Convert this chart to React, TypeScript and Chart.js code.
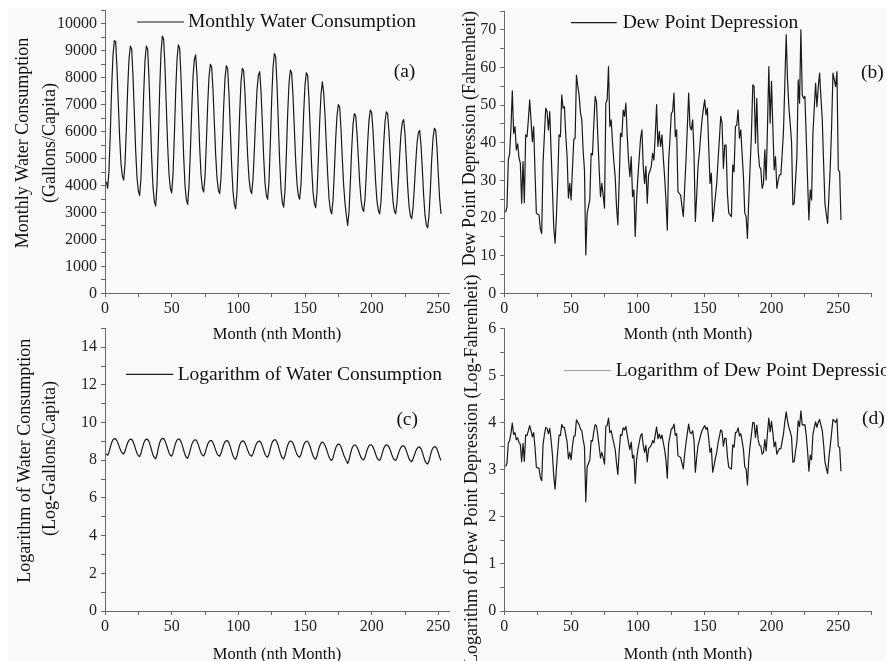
import React, { useEffect, useRef } from 'react';
import { Chart, registerables } from 'chart.js';

Chart.register(...registerables);

const FONT = '"Liberation Serif", "Times New Roman", serif';

// ---- Data (month 1..252) ----
const waterUse = [
  4150, 3900, 4560, 5990, 7640, 8850, 9380, 9350, 8360, 7060, 5760, 4820, 4360,
  4200, 4800, 6090, 7590, 8680, 9180, 9070, 8070, 6680, 5300, 4300, 3800,
  3630, 4300, 5740, 7400, 8630, 9180, 9060, 7990, 6510, 5020, 3950, 3420,
  3240, 4000, 5640, 7530, 8920, 9550, 9430, 8390, 6930, 5480, 4430, 3900,
  3730, 4390, 5820, 7460, 8670, 9220, 9100, 8040, 6560, 5080, 4010, 3480,
  3300, 3970, 5240, 6740, 8020, 8680, 8850, 8090, 6810, 5440, 4420, 3910,
  3760, 4330, 5560, 6980, 8030, 8500, 8400, 7540, 6340, 5140, 4280, 3840,
  3700, 4270, 5510, 6930, 7980, 8450, 8340, 7390, 6060, 4730, 3780, 3300,
  3140, 3770, 5120, 6680, 7830, 8350, 8260, 7420, 6260, 5100, 4260, 3840,
  3700, 4240, 5290, 6510, 7550, 8090, 8230, 7520, 6330, 5050, 4110, 3630,
  3490, 4140, 5550, 7170, 8360, 8900, 8790, 7760, 6340, 4910, 3880, 3370,
  3200, 3810, 5130, 6660, 7780, 8290, 8190, 7330, 6130, 4930, 4070, 3630,
  3490, 4050, 5280, 6690, 7720, 8190, 8090, 7190, 5940, 4680, 3780, 3330,
  3180, 3740, 4950, 6360, 7380, 7850, 7460, 6630, 5500, 4420, 3540, 3100,
  2950, 3440, 4490, 5710, 6600, 7010, 6920, 6110, 4990, 4000, 3350, 2900,
  2520, 3020, 4100, 5340, 6260, 6670, 6600, 5940, 5040, 4130, 3480, 3150,
  3040, 3490, 4470, 5600, 6420, 6800, 6720, 6030, 5070, 4110, 3410, 3070,
  2950, 3400, 4390, 5530, 6360, 6740, 6660, 5980, 5040, 4090, 3410, 3060,
  2950, 3370, 4180, 5120, 5930, 6350, 6450, 5900, 4980, 3980, 3250, 2880,
  2770, 3160, 3920, 4800, 5560, 5960, 6050, 5510, 4600, 3620, 2900, 2540,
  2430, 2870, 3830, 4940, 5750, 6120, 6060, 5400, 4400, 3500, 2950,
];

const dewPointDep = [
  21.5, 23, 35.4, 37.2, 44, 53.8, 42.5, 44.3, 38.1, 39.7,
  36, 34.6, 23.9, 35, 24.1, 42.1, 41.6, 46, 51.4, 46,
  40.3, 44.3, 32, 21.3, 21, 20.8, 17, 15.9, 34.6, 42,
  49.2, 48.3, 43.4, 48.3, 38.1, 28, 17.7, 13.3, 20.4, 30,
  42.1, 41.6, 52.7, 49.2, 49.6, 42, 36.3, 25.3, 29.2, 24.8,
  33, 40.8, 41.2, 58, 55, 52.7, 48, 46.1, 38, 32.8,
  10.2, 21.3, 23, 24.8, 37.2, 36.8, 45, 52.3, 50.9, 41.6,
  33, 25.7, 29.2, 26, 22.6, 50.5, 51.4, 60.2, 44.3, 46.1,
  40, 35, 31, 23, 18.2, 30, 42.5, 41.6, 48.7, 47,
  50.5, 42, 35.4, 31, 36.3, 25.7, 27.5, 15.1, 24.8, 31,
  36, 41.2, 43.4, 33.7, 29.2, 33.7, 23.9, 31.5, 32.5, 33.7,
  37.2, 35.4, 42, 50.1, 39, 43, 39, 42.1, 36, 31,
  24.8, 16.8, 35, 41, 47.8, 48.3, 53.2, 41.6, 43.4, 27,
  26.5, 26.1, 23, 20.4, 28, 35.4, 44, 53.2, 44.3, 43.4,
  46.1, 37.2, 19.1, 26, 33.7, 37.2, 42, 46.1, 49, 51.4,
  47.4, 49.2, 39, 29.2, 31.9, 19.1, 22, 25.7, 29.2, 35.4,
  41, 47, 45.2, 33.2, 39.4, 39.4, 26.6, 21.3, 20.8, 20.4,
  34.1, 32.3, 44.3, 44.7, 48.7, 41.2, 43.4, 37, 31, 21.3,
  20.4, 14.6, 25, 33.7, 42.5, 55.4, 54.9, 39.9, 51.8, 38.1,
  33.7, 33, 27.9, 29.2, 38.1, 30.1, 44.3, 60.2, 45.2, 56.3,
  44.3, 32.8, 36.3, 27.9, 30, 31.5, 31.5, 37, 43.4, 56,
  68.7, 56.7, 49.6, 45, 40.3, 23.5, 23.9, 30, 36.3, 56.7,
  50.5, 70, 52.7, 51.8, 52.3, 41.6, 30, 19.5, 27.5, 24.8,
  42.5, 49, 55.8, 49.6, 54.9, 58.5, 52, 46.1, 34.6, 23.9,
  21, 18.6, 26, 33.7, 44.3, 58.5, 56.7, 54.9, 58.9, 32.8,
  32.3, 19.5,
];

const logWaterUse = [
  8.33, 8.27, 8.43, 8.70, 8.94, 9.09, 9.15, 9.14, 9.03, 8.86, 8.66, 8.48, 8.38,
  8.34, 8.48, 8.71, 8.93, 9.07, 9.12, 9.11, 9.00, 8.81, 8.58, 8.37, 8.24,
  8.20, 8.37, 8.66, 8.91, 9.06, 9.12, 9.11, 8.99, 8.78, 8.52, 8.28, 8.14,
  8.08, 8.29, 8.64, 8.93, 9.10, 9.16, 9.15, 9.03, 8.84, 8.61, 8.40, 8.27,
  8.22, 8.39, 8.67, 8.92, 9.07, 9.13, 9.12, 8.99, 8.79, 8.53, 8.30, 8.15,
  8.10, 8.29, 8.56, 8.82, 8.99, 9.07, 9.09, 9.00, 8.83, 8.60, 8.39, 8.27,
  8.23, 8.37, 8.62, 8.85, 8.99, 9.05, 9.04, 8.93, 8.75, 8.54, 8.36, 8.25,
  8.22, 8.36, 8.61, 8.84, 8.98, 9.04, 9.03, 8.91, 8.71, 8.46, 8.24, 8.10,
  8.05, 8.23, 8.54, 8.81, 8.97, 9.03, 9.02, 8.91, 8.74, 8.54, 8.36, 8.25,
  8.22, 8.35, 8.57, 8.78, 8.93, 9.00, 9.02, 8.93, 8.75, 8.53, 8.32, 8.20,
  8.16, 8.33, 8.62, 8.88, 9.03, 9.09, 9.08, 8.96, 8.75, 8.50, 8.26, 8.12,
  8.07, 8.25, 8.54, 8.80, 8.96, 9.02, 9.01, 8.90, 8.72, 8.50, 8.31, 8.20,
  8.16, 8.31, 8.57, 8.81, 8.95, 9.01, 9.00, 8.88, 8.69, 8.45, 8.24, 8.11,
  8.06, 8.23, 8.51, 8.76, 8.91, 8.97, 8.92, 8.80, 8.61, 8.39, 8.17, 8.04,
  7.99, 8.14, 8.41, 8.65, 8.80, 8.86, 8.84, 8.72, 8.52, 8.29, 8.12, 7.97,
  7.83, 8.01, 8.32, 8.58, 8.74, 8.81, 8.80, 8.69, 8.53, 8.33, 8.15, 8.06,
  8.02, 8.16, 8.41, 8.63, 8.77, 8.82, 8.81, 8.70, 8.53, 8.32, 8.13, 8.03,
  7.99, 8.13, 8.39, 8.62, 8.76, 8.82, 8.80, 8.70, 8.53, 8.32, 8.13, 8.03,
  7.99, 8.12, 8.34, 8.54, 8.69, 8.76, 8.77, 8.68, 8.51, 8.29, 8.09, 7.97,
  7.93, 8.06, 8.27, 8.48, 8.62, 8.69, 8.71, 8.61, 8.43, 8.19, 7.97, 7.84,
  7.80, 7.96, 8.25, 8.50, 8.66, 8.72, 8.71, 8.59, 8.39, 8.16, 7.99,
];

const logDewPointDep = [
  3.07, 3.14, 3.57, 3.62, 3.78, 3.99, 3.75, 3.79, 3.64, 3.68,
  3.58, 3.54, 3.17, 3.56, 3.18, 3.74, 3.73, 3.83, 3.94, 3.83,
  3.70, 3.79, 3.47, 3.06, 3.04, 3.03, 2.83, 2.77, 3.54, 3.74,
  3.90, 3.88, 3.77, 3.88, 3.64, 3.33, 2.87, 2.59, 3.02, 3.40,
  3.74, 3.73, 3.96, 3.90, 3.90, 3.74, 3.59, 3.23, 3.37, 3.21,
  3.50, 3.71, 3.72, 4.06, 4.01, 3.96, 3.87, 3.83, 3.64, 3.49,
  2.32, 3.06, 3.14, 3.21, 3.62, 3.61, 3.81, 3.96, 3.93, 3.73,
  3.50, 3.25, 3.37, 3.26, 3.12, 3.92, 3.94, 4.10, 3.79, 3.83,
  3.69, 3.56, 3.43, 3.14, 2.90, 3.40, 3.75, 3.73, 3.89, 3.85,
  3.92, 3.74, 3.57, 3.43, 3.59, 3.25, 3.31, 2.71, 3.21, 3.43,
  3.58, 3.72, 3.77, 3.52, 3.37, 3.52, 3.17, 3.45, 3.48, 3.52,
  3.62, 3.57, 3.74, 3.91, 3.66, 3.76, 3.66, 3.74, 3.58, 3.43,
  3.21, 2.82, 3.56, 3.71, 3.87, 3.88, 3.97, 3.73, 3.77, 3.30,
  3.28, 3.26, 3.14, 3.02, 3.33, 3.57, 3.78, 3.97, 3.79, 3.77,
  3.83, 3.62, 2.95, 3.26, 3.52, 3.62, 3.74, 3.83, 3.89, 3.94,
  3.86, 3.90, 3.66, 3.37, 3.46, 2.95, 3.09, 3.25, 3.37, 3.57,
  3.71, 3.85, 3.81, 3.50, 3.67, 3.67, 3.28, 3.06, 3.03, 3.02,
  3.53, 3.48, 3.79, 3.80, 3.89, 3.72, 3.77, 3.61, 3.43, 3.06,
  3.02, 2.68, 3.22, 3.52, 3.75, 4.01, 4.00, 3.69, 3.95, 3.64,
  3.52, 3.50, 3.33, 3.37, 3.64, 3.40, 3.79, 4.10, 3.81, 4.03,
  3.79, 3.49, 3.59, 3.33, 3.40, 3.45, 3.45, 3.61, 3.77, 4.03,
  4.23, 4.04, 3.90, 3.81, 3.70, 3.16, 3.17, 3.40, 3.59, 4.04,
  3.92, 4.25, 3.96, 3.95, 3.96, 3.73, 3.40, 2.97, 3.31, 3.21,
  3.75, 3.89, 4.02, 3.90, 4.01, 4.07, 3.95, 3.83, 3.54, 3.17,
  3.04, 2.92, 3.26, 3.52, 3.79, 4.07, 4.04, 4.01, 4.08, 3.49,
  3.48, 2.97,
];

const xTitle = 'Month (nth Month)';

type Panel = {
  key: string;
  label: string;
  values: number[];
  tag: string;
  left: number; top: number; w: number; h: number;
  padT: number; padR: number; yw: number; xh: number;
  xMax: number; yMax: number; yStep: number; yMajor: number;
  yTitle: string | string[]; yLH: number; ytPad: number; xtPad: number;
  decor: any;
};

const panelDecor = {
  id: 'panelDecor',
  afterDraw(chart: any, _args: any, opts: any) {
    const { ctx, chartArea } = chart;
    const l = chartArea.left;
    const t = chartArea.top;
    ctx.save();
    ctx.strokeStyle = opts.lineColor;
    ctx.lineWidth = opts.lineWidth;
    ctx.beginPath();
    ctx.moveTo(l + opts.x1, t + opts.y);
    ctx.lineTo(l + opts.x2, t + opts.y);
    ctx.stroke();
    ctx.fillStyle = '#111';
    ctx.font = `${opts.size}px ${FONT}`;
    ctx.textBaseline = 'middle';
    ctx.textAlign = 'left';
    ctx.fillText(chart.data.datasets[0].label, l + opts.tx, t + opts.y);
    ctx.textAlign = 'center';
    ctx.fillText(opts.tag, l + opts.tagX, t + opts.tagY);
    ctx.restore();
  },
};

const AXIS = '#666';

function buildConfig(p: Panel): any {
  const points = p.values.map((v, i) => ({ x: i + 1, y: v }));
  return {
    type: 'line',
    data: {
      datasets: [
        {
          label: p.label,
          data: points,
          borderColor: '#1a1a1a',
          borderWidth: 1.2,
          pointRadius: 0,
          tension: 0,
          fill: false,
          borderJoinStyle: 'round',
        },
      ],
    },
    plugins: [panelDecor],
    options: {
      responsive: false,
      animation: false,
      devicePixelRatio: 1,
      events: [],
      layout: { padding: { left: 0, top: p.padT, right: p.padR, bottom: 0 } },
      plugins: {
        legend: { display: false },
        tooltip: { enabled: false },
        panelDecor: { ...p.decor, tag: p.tag },
      },
      scales: {
        x: {
          type: 'linear',
          min: 0,
          max: p.xMax,
          afterFit: (s: any) => { s.height = p.xh; },
          border: { display: true, color: AXIS, width: 1 },
          grid: { drawOnChartArea: false, drawTicks: true, tickLength: 4, color: AXIS },
          ticks: {
            stepSize: 25,
            autoSkip: false,
            includeBounds: false,
            maxRotation: 0,
            padding: 2,
            color: '#222',
            font: { family: FONT, size: 16 },
            callback: (v: number) => (v % 50 === 0 ? String(v) : ''),
          },
          title: {
            display: true,
            text: xTitle,
            color: '#111',
            font: { family: FONT, size: 16.5, lineHeight: 1.2 },
            padding: { top: 0, bottom: p.xtPad },
          },
        },
        y: {
          type: 'linear',
          min: 0,
          max: p.yMax,
          afterFit: (s: any) => { s.width = p.yw; },
          border: { display: true, color: AXIS, width: 1 },
          grid: { drawOnChartArea: false, drawTicks: true, tickLength: 4, color: AXIS },
          ticks: {
            stepSize: p.yStep,
            autoSkip: false,
            includeBounds: false,
            padding: 4,
            color: '#222',
            font: { family: FONT, size: 16 },
            callback: (v: number) => {
              const r = v / p.yMajor;
              return Math.abs(r - Math.round(r)) < 1e-6 ? String(v) : '';
            },
          },
          title: {
            display: true,
            text: p.yTitle,
            color: '#111',
            font: { family: FONT, size: 18, lineHeight: p.yLH },
            padding: { top: p.ytPad, bottom: 0 },
          },
        },
      },
    },
  };
}

// leading spaces nudge the rotated titles toward the top, as in the original
const panels: Panel[] = [
  {
    key: 'a', label: 'Monthly Water Consumption', values: waterUse, tag: '(a)',
    left: 0, top: -20, w: 481, h: 359, padT: 22.5, padR: 40, yw: 97, xh: 53.7,
    xMax: 258, yMax: 10500, yStep: 500, yMajor: 1000,
    yTitle: ['    Monthly Water Consumption', '    (Gallons/Capita)'], yLH: 1.48, ytPad: 2, xtPad: 2.1,
    decor: { x1: 32, x2: 79, y: 11.5, tx: 83, tagX: 299.5, tagY: 61.5, size: 19.5, lineColor: '#1a1a1a', lineWidth: 1.2 },
  },
  {
    key: 'c', label: 'Logarithm of Water Consumption', values: logWaterUse, tag: '(c)',
    left: 0, top: 292, w: 481, h: 370, padT: 28.4, padR: 40, yw: 97, xh: 59,
    xMax: 258, yMax: 15, yStep: 1, yMajor: 2,
    yTitle: ['    Logarithm of Water Consumption', '     (Log-Gallons/Capita)'], yLH: 1.4, ytPad: 4.4, xtPad: 5.1,
    decor: { x1: 21, x2: 68.3, y: 46, tx: 72.7, tagX: 302.2, tagY: 91, size: 19.5, lineColor: '#1a1a1a', lineWidth: 1.2 },
  },
  {
    key: 'b', label: 'Dew Point Depression', values: dewPointDep, tag: '(b)',
    left: 442, top: -20, w: 464, h: 359, padT: 23, padR: 42.3, yw: 54.3, xh: 53.7,
    xMax: 275, yMax: 75, yStep: 5, yMajor: 10,
    yTitle: '      Dew Point Depression (Fahrenheit)', yLH: 1.2, ytPad: 9.2, xtPad: 2.1,
    decor: { x1: 66.7, x2: 112.4, y: 11.7, tx: 118.4, tagX: 368, tagY: 61.7, size: 19.5, lineColor: '#1a1a1a', lineWidth: 1.2 },
  },
  {
    key: 'd', label: 'Logarithm of Dew Point Depression', values: logDewPointDep, tag: '(d)',
    left: 442, top: 262, w: 464, h: 400, padT: 58.6, padR: 42.3, yw: 54.3, xh: 59,
    xMax: 275, yMax: 6, yStep: 0.5, yMajor: 1,
    yTitle: 'Logarithm of Dew Point Depression (Log-Fahrenheit)', yLH: 1.2, ytPad: 11.2, xtPad: 5.1,
    decor: { x1: 59.7, x2: 106.4, y: 42, tx: 111.4, tagX: 369, tagY: 90.7, size: 19.5, lineColor: '#9a9a9a', lineWidth: 1 },
  },
];

function PanelChart({ p }: { p: Panel }) {
  const ref = useRef<HTMLCanvasElement | null>(null);
  useEffect(() => {
    const chart = new Chart(ref.current as HTMLCanvasElement, buildConfig(p));
    return () => chart.destroy();
  }, [p]);
  return (
    <canvas
      ref={ref}
      width={p.w}
      height={p.h}
      style={{ position: 'absolute', left: p.left, top: p.top, width: p.w, height: p.h, display: 'block' }}
    />
  );
}

export default function App() {
  const leftPanels = panels.filter((p) => p.key === 'a' || p.key === 'c');
  const rightPanels = panels.filter((p) => p.key === 'b' || p.key === 'd');
  return (
    <div
      style={{
        position: 'relative',
        width: 886,
        height: 653,
        overflow: 'hidden',
        background: '#f9f9f9',
      }}
    >
      <div style={{ position: 'absolute', left: 0, top: 0, width: 442, height: 653, overflow: 'hidden' }}>
        {leftPanels.map((p) => (
          <PanelChart key={p.key} p={p} />
        ))}
      </div>
      {rightPanels.map((p) => (
        <PanelChart key={p.key} p={p} />
      ))}
    </div>
  );
}
